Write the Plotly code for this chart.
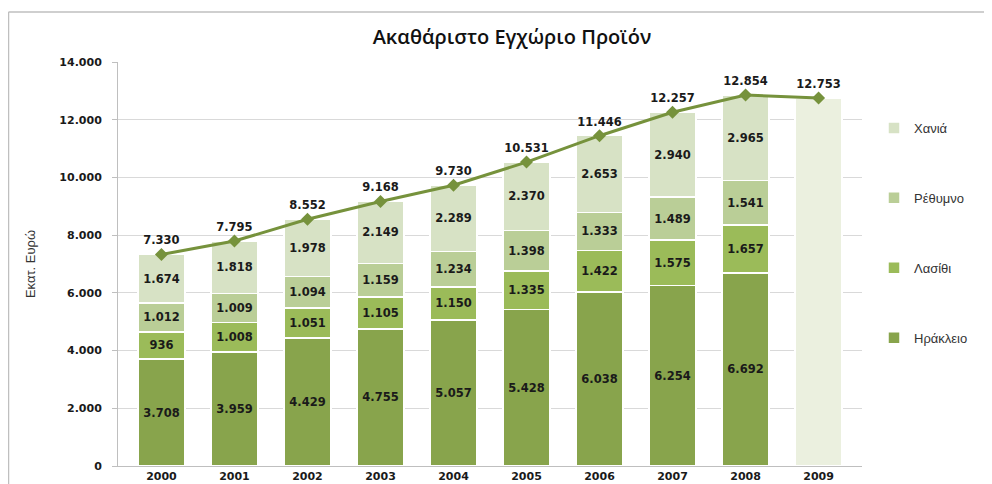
import plotly.graph_objects as go

years = ["2000", "2001", "2002", "2003", "2004", "2005", "2006", "2007", "2008", "2009"]
bar_years = years[:9]
irakleio = [3708, 3959, 4429, 4755, 5057, 5428, 6038, 6254, 6692]
lasithi = [936, 1008, 1051, 1105, 1150, 1335, 1422, 1575, 1657]
rethymno = [1012, 1009, 1094, 1159, 1234, 1398, 1333, 1489, 1541]
xania = [1674, 1818, 1978, 2149, 2289, 2370, 2653, 2940, 2965]
totals = [7330, 7795, 8552, 9168, 9730, 10531, 11446, 12257, 12854, 12753]
total_2009 = [12753]
y_ticks = [0, 2000, 4000, 6000, 8000, 10000, 12000, 14000]

def fmt(v):
    return f"{v:,}".replace(",", ".")

lab_font = dict(family="DejaVu Sans", size=11.5, color="#1a1a1a", weight="bold")

fig = go.Figure()
series = [
    ("Ηράκλειο", irakleio, "#88A44C"),
    ("Λασίθι", lasithi, "#9BBB59"),
    ("Ρέθυμνο", rethymno, "#BACE97"),
    ("Χανιά", xania, "#D7E2C5"),
]
for i, (name, vals, col) in enumerate(series):
    fig.add_trace(go.Bar(
        x=bar_years, y=vals, name=name,
        marker=dict(color=col, line=dict(color="white", width=1.5)),
        text=[fmt(v) for v in vals], textposition="inside",
        insidetextanchor="middle", textangle=0, constraintext="none",
        textfont=lab_font, legendgroup=name, legendrank=10 - i,
        hoverinfo="skip",
    ))

fig.add_trace(go.Bar(
    x=["2009"], y=total_2009, name="2009",
    marker=dict(color="#EBF0DF", line=dict(color="white", width=1.5)),
    showlegend=False, hoverinfo="skip",
))

fig.add_trace(go.Scatter(
    x=years, y=totals, mode="lines+markers+text",
    line=dict(color="#76923C", width=3),
    marker=dict(symbol="diamond", size=10, color="#76923C"),
    text=[fmt(v) for v in totals], textposition="top center",
    textfont=lab_font, showlegend=False, hoverinfo="skip",
))

# page is offset by the browser's 8px body margin
W, H = 984, 476
L, R, T, B = 110, 130, 54, 18
pw, ph = W - L - R, H - T - B

fig.update_layout(
    width=W, height=H,
    margin=dict(l=L, r=R, t=T, b=B, autoexpand=False),
    barmode="stack", bargap=0.36,
    paper_bgcolor="white", plot_bgcolor="white",
    separators=",.",
    title=dict(text="Ακαθάριστο Εγχώριο Προϊόν", x=504 / W, xanchor="center",
               y=1 - 29 / H, yanchor="middle",
               font=dict(family="Open Sans", size=20, color="#111111", weight=600)),
    legend=dict(x=(866 - L) / pw, xanchor="left", y=1 - (105 - T) / ph, yanchor="top",
                traceorder="grouped", tracegroupgap=50,
                font=dict(family="Liberation Sans", size=13, color="#333333"),
                itemwidth=30),
    showlegend=True,
    font=dict(family="DejaVu Sans"),
)

fig.update_yaxes(
    range=[0, 14000], tickvals=y_ticks, ticktext=[fmt(v) for v in y_ticks],
    showgrid=True, gridcolor="#D9D9D9", gridwidth=1,
    showline=True, linecolor="#BFBFBF", linewidth=1,
    ticks="outside", ticklen=5, tickcolor="#BFBFBF",
    ticklabelstandoff=8, automargin=False,
    tickfont=dict(family="DejaVu Sans", size=11, color="#1a1a1a", weight="bold"),
    title=dict(text="Εκατ. Ευρώ", font=dict(family="Liberation Sans", size=13, color="#333333"),
               standoff=20),
    zeroline=False,
)
fig.update_xaxes(
    showline=True, linecolor="#BFBFBF", linewidth=1, automargin=False,
    tickfont=dict(family="DejaVu Sans", size=11, color="#1a1a1a", weight="bold"),
    ticks="", showgrid=False,
)

fig.add_shape(type="line", xref="paper", yref="paper",
              x0=(0.5 - L) / pw, x1=(W + 5 - L) / pw,
              y0=(H - B - 4) / ph, y1=(H - B - 4) / ph,
              line=dict(color="#BFBFBF", width=1.5))
fig.add_shape(type="line", xref="paper", yref="paper",
              x0=(0.5 - L) / pw, x1=(0.5 - L) / pw,
              y0=(H - B - 4) / ph, y1=-0.2,
              line=dict(color="#BFBFBF", width=1.5))

fig.write_html("out.html")
